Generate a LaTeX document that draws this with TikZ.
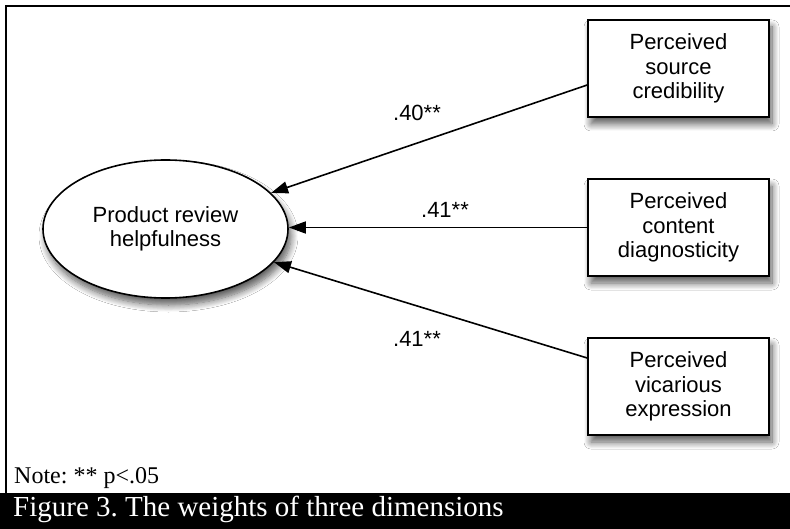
\documentclass[tikz,border=0pt]{standalone}
\usepackage{fontspec}
\setmainfont{Liberation Serif}
\newfontfamily\arialfont{Liberation Sans}
\usetikzlibrary{shapes.geometric,shadows.blur,arrows.meta}
\begin{document}
\frenchspacing
\begin{tikzpicture}[x=1pt,y=-1pt,
  lbl/.style={font=\arialfont\fontsize{22}{24.5}\selectfont},
  shade3/.style={blur shadow={shadow xshift=3pt, shadow yshift=-7pt, shadow blur steps=10, shadow blur radius=7pt, shadow opacity=65}},
  varbox/.style={draw, line width=1.6pt, fill=white, minimum width=181pt, minimum height=97pt, align=center, lbl, inner sep=0pt, shade3},
  latent/.style={ellipse, draw, line width=1.6pt, fill=white, minimum width=245pt, minimum height=138pt, align=center, lbl, inner sep=0pt, shade3},
  arr/.style={line width=1.6pt, -{Triangle[length=17pt,width=12pt]}},
  coef/.style={lbl, inner sep=0pt}
]
\useasboundingbox (0,0) rectangle (790,529);
\fill[white] (0,0) rectangle (790,529);

% frame
\draw[line width=2pt] (6,493) -- (6,6) -- (790,6);

% nodes
\node[latent] (ell) at (165.5,229) {Product review\\helpfulness};
\node[varbox] (b1) at (678.5,68.5) {Perceived\\source\\credibility};
\node[varbox] (b2) at (678.5,227.5) {Perceived\\content\\diagnosticity};
\node[varbox] (b3) at (678.5,386.5) {Perceived\\vicarious\\expression};

% connectors
\coordinate (s1) at ([yshift=-16.5pt]b1.west);
\coordinate (s3) at ([yshift=28.5pt]b3.west);
\draw[arr] (s1) -- (ell);
\draw[arr] (b2.west) -- (b2.west -| ell.east);
\draw[arr] (s3) -- (ell);

% coefficients
\node[coef] (c1) at (417,113) {.40**};
\node[coef] (c2) at (445,210) {.41**};
\node[coef] (c3) at (417,339) {.41**};

% note and caption
\node[anchor=base west, inner sep=0pt, font=\fontsize{24}{28}\selectfont] (note) at (14,483) {Note: ** p<.05};
\fill[black] (0,493) rectangle (790,529);
\node[anchor=base west, inner sep=0pt, text=white, font=\fontsize{29}{33}\selectfont] (cap) at (13,516) {Figure 3. The weights of three dimensions};
\end{tikzpicture}
\end{document}
